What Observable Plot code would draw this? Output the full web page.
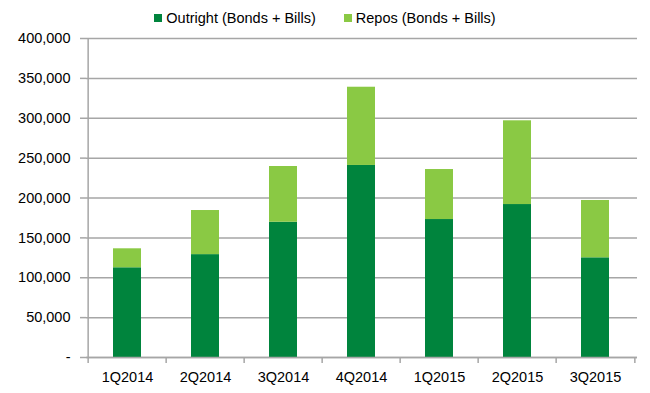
<!DOCTYPE html>
<html>
<head>
<meta charset="utf-8">
<script src="https://cdn.jsdelivr.net/npm/d3@7"></script>
<script src="https://cdn.jsdelivr.net/npm/@observablehq/plot@0.6"></script>
<style>
  body { margin: 0; background: #fff; font-family: "Liberation Sans", Arial, sans-serif; }
  #legend { height: 28px; display: flex; justify-content: center; align-items: center; font-size: 14.5px; color: #000; box-sizing: border-box; padding-top: 8px; }
  #legend .item { display: flex; align-items: center; margin: 0 14px; }
  #legend .sw { width: 8px; height: 8px; margin-right: 4px; }
</style>
</head>
<body>
<div id="legend"></div>
<div id="chart"></div>
<script>
const categories = ["1Q2014", "2Q2014", "3Q2014", "4Q2014", "1Q2015", "2Q2015", "3Q2015"];
const outright = [112500, 129000, 169600, 240800, 173000, 191800, 125000];
const repos = [23800, 55300, 69900, 98100, 62700, 105000, 71900];
const seriesNames = ["Outright (Bonds + Bills)", "Repos (Bonds + Bills)"];
const seriesColors = ["#00843D", "#8AC944"];
const yTicks = [0, 50000, 100000, 150000, 200000, 250000, 300000, 350000, 400000];

const data = [];
categories.forEach((c, i) => {
  data.push({cat: c, series: seriesNames[0], value: outright[i]});
  data.push({cat: c, series: seriesNames[1], value: repos[i]});
});

const legend = document.getElementById("legend");
seriesNames.forEach((n, i) => {
  const it = document.createElement("div");
  it.className = "item";
  const sw = document.createElement("span");
  sw.className = "sw";
  sw.style.background = seriesColors[i];
  const t = document.createElement("span");
  t.textContent = n;
  it.appendChild(sw); it.appendChild(t);
  legend.appendChild(it);
});

const W = 650, H = 365, mL = 86, mR = 13, mT = 10, mB = 36;
const step = (W - mL - mR) / categories.length;
const gray = "#a6a6a6";

const chart = Plot.plot({
  width: W, height: H,
  marginLeft: mL, marginRight: mR, marginTop: mT, marginBottom: mB,
  style: {fontFamily: "Liberation Sans, Arial, sans-serif", fontSize: "14.5px", color: "#000", background: "#fff"},
  x: {domain: categories, paddingInner: 0.64, paddingOuter: 0.32, label: null},
  y: {domain: [0, 400000], label: null},
  color: {domain: seriesNames, range: seriesColors},
  marks: [
    Plot.ruleY(yTicks, {stroke: gray, strokeWidth: 1.5}),
    Plot.axisY({ticks: yTicks, tickSize: 6, tickPadding: 10, stroke: gray, strokeWidth: 1.5,
      tickFormat: d => d === 0 ? "-" : d3.format(",")(d), label: null}),
    Plot.axisX({tickSize: 0, tickPadding: 14, label: null}),
    Plot.barY(data, Plot.stackY({x: "cat", y: "value", fill: "series", order: seriesNames})),
    Plot.ruleX([categories[0]], {dx: -step / 2, stroke: gray, strokeWidth: 1.5}),
    Plot.ruleX(categories, {x: d => d, dx: -step / 2, y1: 0, y2: 0, insetBottom: -6, stroke: gray, strokeWidth: 1.5}),
    Plot.ruleX([categories[categories.length - 1]], {dx: step / 2, y1: 0, y2: 0, insetBottom: -6, stroke: gray, strokeWidth: 1.5}),
    Plot.ruleY([0], {stroke: gray, strokeWidth: 1.5})
  ]
});
document.getElementById("chart").appendChild(chart);
</script>
</body>
</html>
